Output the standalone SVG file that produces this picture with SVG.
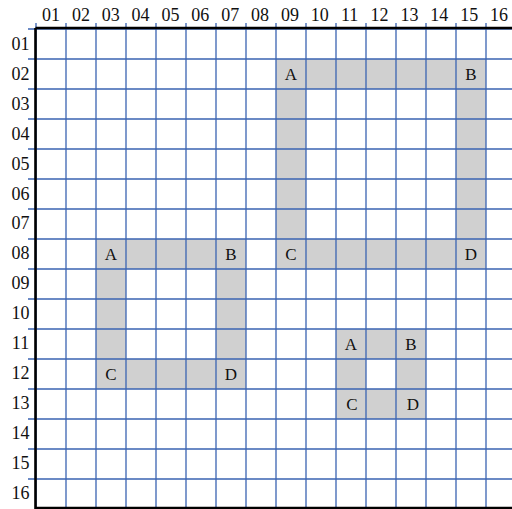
<svg xmlns="http://www.w3.org/2000/svg" width="512" height="509" viewBox="0 0 512 509">
<style>
.fill{fill:#d0d0d0;stroke:none}
.grid{stroke:#3b64b2;stroke-width:1.3;fill:none}
.frame{stroke:#000;stroke-width:2.6;fill:none}
.hdr{font-family:"Liberation Serif","Times New Roman",serif;font-size:18px;fill:#111;text-anchor:middle}
.lbl{font-family:"Liberation Serif","Times New Roman",serif;font-size:17px;fill:#111;text-anchor:middle}
</style>
<rect x="0" y="0" width="512" height="509" fill="#fff"/>
<g id="shape-large">
<rect class="fill" x="276" y="59" width="210" height="30"/>
<rect class="fill" x="276" y="239" width="210" height="30"/>
<rect class="fill" x="276" y="59" width="30" height="210"/>
<rect class="fill" x="456" y="59" width="30" height="210"/>
</g>
<g id="shape-medium">
<rect class="fill" x="96" y="239" width="150" height="30"/>
<rect class="fill" x="96" y="359" width="150" height="30"/>
<rect class="fill" x="96" y="239" width="30" height="150"/>
<rect class="fill" x="216" y="239" width="30" height="150"/>
</g>
<g id="shape-small">
<rect class="fill" x="336" y="329" width="90" height="30"/>
<rect class="fill" x="336" y="389" width="90" height="30"/>
<rect class="fill" x="336" y="329" width="30" height="90"/>
<rect class="fill" x="396" y="329" width="30" height="90"/>
</g>
<g id="grid" class="grid">
<path d="M36 23V509M66 23V509M96 23V509M126 23V509M156 23V509M186 23V509M216 23V509M246 23V509M276 23V509M306 23V509M336 23V509M366 23V509M396 23V509M426 23V509M456 23V509M486 23V509"/>
<path d="M28 29H512M28 59H512M28 89H512M28 119H512M28 149H512M28 179H512M28 209H512M28 239H512M28 269H512M28 299H512M28 329H512M28 359H512M28 389H512M28 419H512M28 449H512M28 479H512"/>
</g>
<g id="frame" class="frame">
<path d="M35.5 28H512M35.5 28V509M35.5 508H512"/>
</g>
<g id="col-headers" class="hdr">
<text x="51" y="21">01</text>
<text x="80.9" y="21">02</text>
<text x="110.7" y="21">03</text>
<text x="140.6" y="21">04</text>
<text x="170.5" y="21">05</text>
<text x="200.3" y="21">06</text>
<text x="230.2" y="21">07</text>
<text x="260.1" y="21">08</text>
<text x="290" y="21">09</text>
<text x="319.8" y="21">10</text>
<text x="349.7" y="21">11</text>
<text x="379.6" y="21">12</text>
<text x="409.4" y="21">13</text>
<text x="439.3" y="21">14</text>
<text x="469.2" y="21">15</text>
<text x="499" y="21">16</text>
</g>
<g id="row-headers" class="hdr">
<text x="20.5" y="50">01</text>
<text x="20.5" y="79.9">02</text>
<text x="20.5" y="109.8">03</text>
<text x="20.5" y="139.7">04</text>
<text x="20.5" y="169.6">05</text>
<text x="20.5" y="199.5">06</text>
<text x="20.5" y="229.4">07</text>
<text x="20.5" y="259.3">08</text>
<text x="20.5" y="289.2">09</text>
<text x="20.5" y="319.1">10</text>
<text x="20.5" y="349">11</text>
<text x="20.5" y="378.9">12</text>
<text x="20.5" y="408.8">13</text>
<text x="20.5" y="438.7">14</text>
<text x="20.5" y="468.6">15</text>
<text x="20.5" y="498.5">16</text>
</g>
<g id="labels-large" class="lbl">
<text x="291" y="80">A</text>
<text x="471" y="80">B</text>
<text x="291" y="260">C</text>
<text x="471" y="260">D</text>
</g>
<g id="labels-medium" class="lbl">
<text x="111" y="260">A</text>
<text x="231" y="260">B</text>
<text x="111" y="380">C</text>
<text x="231" y="380">D</text>
</g>
<g id="labels-small" class="lbl">
<text x="351" y="350">A</text>
<text x="411" y="350">B</text>
<text x="352" y="410">C</text>
<text x="413" y="410">D</text>
</g>
</svg>
